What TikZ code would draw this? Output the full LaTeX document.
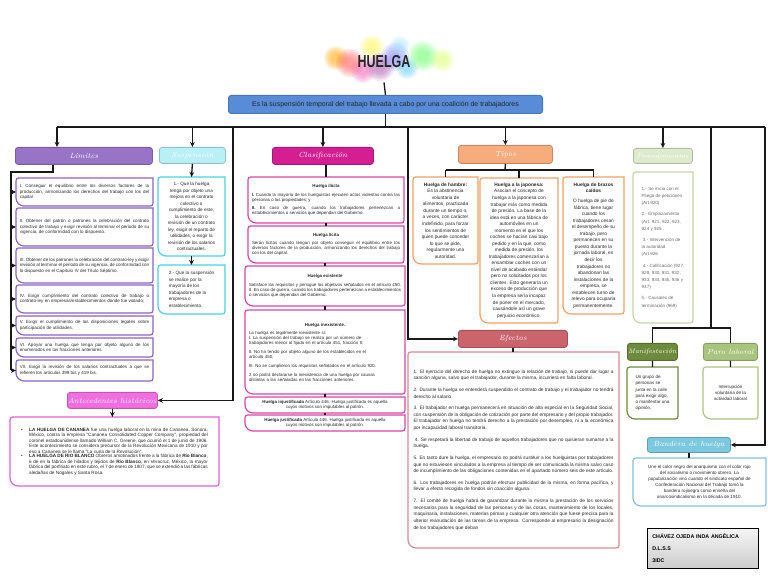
\documentclass[tikz,border=0pt]{standalone}
\usepackage{fontspec}
\usepackage{graphicx}
\newfontfamily\arialf{Liberation Sans}
\usetikzlibrary{arrows.meta}
\newcommand\pgap{\par\vspace{3.4pt}}
\newcommand\bulletitem[1]{\noindent\makebox[6pt][l]{\textbullet}\parbox[t]{134pt}{#1}\par}
\hyphenpenalty=10000
\exhyphenpenalty=10000
\emergencystretch=6pt

\definecolor{limc}{RGB}{152,116,198}
\definecolor{limd}{RGB}{140,100,190}
\definecolor{susc}{RGB}{184,240,246}
\definecolor{susd}{RGB}{72,210,228}
\definecolor{clac}{RGB}{212,30,146}
\definecolor{clad}{RGB}{214,70,165}
\definecolor{tipc}{RGB}{246,172,124}
\definecolor{tipd}{RGB}{240,160,100}
\definecolor{proc}{RGB}{222,234,204}
\definecolor{prod}{RGB}{196,214,166}
\definecolor{efc}{RGB}{204,100,110}
\definecolor{efd}{RGB}{214,140,148}
\definecolor{antc}{RGB}{240,110,224}
\definecolor{antd}{RGB}{228,96,212}
\definecolor{manc}{RGB}{110,138,60}
\definecolor{parc}{RGB}{168,196,126}
\definecolor{banc}{RGB}{124,200,222}
\definecolor{band}{RGB}{130,190,226}
\definecolor{bluec}{RGB}{88,140,214}
\definecolor{wire}{RGB}{25,25,25}

\tikzset{every picture/.style={line width=0.75pt}}
\tikzset{
  wire/.style={draw=wire, line width=1pt},
  tip/.style={-{Stealth[length=3.8pt,width=3.6pt]}},
  head/.style={draw=#1!80!black, fill=#1, rounded corners=2pt, line width=0.6pt, anchor=north west, inner sep=0pt, text=white, font=\itshape\fontsize{5.6}{6}\selectfont},
  card/.style={anchor=north west, inner xsep=2.5pt, inner ysep=1pt, text=black!85, font=\arialf\fontsize{3.4}{4.2}\selectfont, align=justify},
  rim/.style={line width=0.9pt},
}

\begin{document}
\begin{tikzpicture}[x=0.75pt,y=0.75pt,yscale=-1,xscale=1]
\useasboundingbox (0,0) rectangle (768,577);

%Shape: Watercolour blot behind the title
\foreach \cx/\cy/\r/\col in {336/58/12/orange!70!yellow, 372/47/12/yellow!70, 350/63/14/red!65, 363/71/12/magenta!60, 380/67/14/violet!65, 395/57/14/blue!50, 407/68/11/cyan!60, 423/56/15/green!60, 442/60/12/lime!55, 400/46/10/cyan!35}
  \foreach \k in {1,0.85,0.7,0.55,0.4}
    \fill [\col, fill opacity=0.16] (\cx,\cy) circle ({\r*\k});

% Text Node
\node [minimum height=30pt, text=black!85, font=\arialf\bfseries\fontsize{13}{13}\selectfont] (title) at (384,62) {\scalebox{0.72}[1]{HUELGA}};
\node [draw=bluec!85!black, fill=bluec, rounded corners=2pt, anchor=north west, minimum width=235.5pt, minimum height=13.5pt, inner sep=0pt, text=black!85, font=\arialf\fontsize{5.2}{6}\selectfont] (banner) at (228,95) {Es la suspensión temporal del trabajo llevada a cabo por una coalición de trabajadores};

%Límites
\node [head=limc, minimum width=102.75pt, minimum height=12.75pt] (limh) at (15,147) {Límites};
\node [card, minimum width=102pt, minimum height=20.25pt, text width=97pt] (l1) at (16,178) {I. Conseguir el equilibrio entre los diversos factores de la producción, armonizando los derechos del trabajo con los del capital};
\node [card, minimum width=102pt, minimum height=27.75pt, text width=97pt] (l2) at (16,208) {II. Obtener del patrón o patrones la celebración del contrato colectivo de trabajo y exigir revisión al terminar el periodo de su vigencia, de conformidad con lo dispuesto.};
\node [card, minimum width=102pt, minimum height=25.5pt, text width=97pt] (l3) at (16,248) {III. Obtener de los patrones la celebración del contrato-ley y exigir revisión al terminar el periodo de su vigencia, de conformidad con lo dispuesto en el Capítulo IV del Título Séptimo.};
\node [card, minimum width=102pt, minimum height=20.25pt, text width=97pt] (l4) at (16,285) {IV. Exigir cumplimiento del contrato colectivo de trabajo o contrato-ley en empresas/establecimientos donde fue violado;};
\node [card, minimum width=102pt, minimum height=13.5pt, text width=97pt] (l5) at (16,316) {V. Exigir el cumplimiento de las disposiciones legales sobre participación de utilidades.};
\node [card, minimum width=102pt, minimum height=13.5pt, text width=97pt] (l6) at (16,338) {VI. Apoyar una huelga que tenga por objeto alguno de los enumerados en las fracciones anteriores.};
\node [card, minimum width=102pt, minimum height=15pt, text width=97pt] (l7) at (16,360) {VII. Exigir la revisión de los salarios contractuales a que se refieren los artículos 399 bis y 419 bis.};

%Suspensión
\node [head=susc, minimum width=49.5pt, minimum height=12pt] (susph) at (159,147) {Suspensión};
\node [card, align=center, minimum width=49.5pt, minimum height=58.5pt, font=\arialf\fontsize{3.5}{4.9}\selectfont] (s1) at (158,177) {1.- Que la huelga\\tenga por objeto una\\mejora en el contrato\\colectivo o\\cumplimiento de este,\\la celebración o\\revisión de un contrato\\ley, exigir el reparto de\\utilidades, o exigir la\\revisión de los salarios\\contractuales.};
\node [card, align=left, minimum width=49.5pt, minimum height=36pt, font=\arialf\fontsize{3.5}{4.9}\selectfont] (s2) at (158,265) {2.- Que la suspensión\\se realice por la\\mayoría de los\\trabajadores de la\\empresa o\\establecimiento.};

%Clasificación
\node [head=clac, minimum width=75.75pt, minimum height=12.75pt] (clash) at (272,147) {Clasificación};
\node [card, minimum width=116.25pt, minimum height=33.75pt, text width=111pt, font=\arialf\fontsize{3.3}{3.8}\selectfont] (c1) at (248,177) {{\centering\bfseries Huelga ilícita\par}\vspace{2.5pt}\textbf{I.} Cuando la mayoría de los huelguistas ejecuten actos violentas contra las personas o las propiedades; y\par\vspace{2.6pt}\textbf{II.} En caso de guerra, cuando los trabajadores pertenezcan a establecimientos o servicios que dependan del Gobierno.};
\node [card, minimum width=116.25pt, minimum height=27pt, text width=111pt, font=\arialf\fontsize{3.3}{3.8}\selectfont] (c2) at (248,226) {{\centering\bfseries Huelga lícita\par}\vspace{2.5pt}Serán lícitas cuando tengan por objeto conseguir el equilibrio entre los diversos factores de la producción, armonizando los derechos del trabajo con los del capital.};
\node [card, minimum width=119.25pt, minimum height=29.25pt, text width=114pt, font=\arialf\fontsize{3.3}{3.8}\selectfont] (c3) at (245,266) {{\centering\bfseries Huelga existente\par}\vspace{2.5pt}Satisface los requisitos y persigue los objetivos señalados en el artículo 450. II. En caso de guerra, cuando los trabajadores pertenezcan a establecimientos o servicios que dependan del Gobierno.};
\node [card, align=left, minimum width=119.25pt, minimum height=62.25pt, text width=114pt, font=\arialf\fontsize{3.3}{3.8}\selectfont] (c4) at (245,310) {\makebox[\linewidth][c]{\bfseries Huelga inexistente.}\\[2.5pt]La huelga es legalmente inexistente si:\\I. La suspensión del trabajo se realiza por un número de\\trabajadores menor al fijado en el artículo 451, fracción II;\\[2.8pt]II. No ha tenido por objeto alguno de los establecidos en el\\artículo 450;\\[2.8pt]III. No se cumplieron los requisitos señalados en el artículo 920.\\[2.8pt]2 no podrá declararse la inexistencia de una huelga por causas\\distintas a las señaladas en las fracciones anteriores.};
\node [card, align=center, minimum width=119.25pt, minimum height=11.25pt, font=\arialf\fontsize{3.3}{3.8}\selectfont] (c5) at (245,397) {\textbf{Huelga injustificada} Artículo 446. Huelga justificada es aquella\\cuyos motivos son imputables al patrón.};
\node [card, align=center, minimum width=119.25pt, minimum height=11.25pt, font=\arialf\fontsize{3.3}{3.8}\selectfont] (c6) at (245,415) {\textbf{Huelga justificada} Artículo 446. Huelga justificada es aquella\\cuyos motivos son imputables al patrón.};

%Tipos
\node [head=tipc, minimum width=70.5pt, minimum height=13.5pt] (tiph) at (458,145) {Tipos};
\node [card, align=center, minimum width=48pt, minimum height=64.5pt, font=\arialf\fontsize{3.6}{4.9}\selectfont] (t1) at (413,177) {\textbf{Huelga de hambre:}\\Es la abstinencia\\voluntaria de\\alimentos, practicada\\durante un tiempo o,\\a veces, con carácter\\indefinido, para forzar\\los sentimientos de\\quien puede conceder\\lo que se pide,\\regularmente una\\autoridad.};
\node [card, align=center, minimum width=57.75pt, minimum height=108pt, font=\arialf\fontsize{3.6}{4.9}\selectfont] (t2) at (480,178) {\textbf{Huelga a la japonesa:}\\Asocian el concepto de\\huelga a la japonesa con\\trabajar más como medida\\de presión. La base de la\\idea está en una fábrica de\\automóviles en un\\momento en el que los\\coches se hacían casi bajo\\pedido y en la que, como\\medida de presión, los\\trabajadores comenzarían a\\ensamblar coches con un\\nivel de acabado estándar\\pero no solicitados por los\\clientes. Esto generaría un\\exceso de producción que\\la empresa sería incapaz\\de poner en el mercado,\\causándole así un grave\\perjuicio económico.};
\node [card, align=center, minimum width=45pt, minimum height=102pt, font=\arialf\fontsize{3.6}{4.9}\selectfont] (t3) at (563,177) {\textbf{Huelga de brazos}\\\textbf{caídos}\\[2.5pt]O huelga de pie de\\fábrica, tiene lugar\\cuando los\\trabajadores cesan\\el desempeño de su\\trabajo, pero\\permanecen en su\\puesto durante la\\jornada laboral, es\\decir los\\trabajadores no\\abandonan las\\instalaciones de la\\empresa, se\\establecen turno de\\relevo para ocuparla\\permanentemente.};

%Procedimientos
\node [head=proc, minimum width=44.25pt, minimum height=11.25pt, font=\itshape\fontsize{5}{6}\selectfont] (proch) at (633,148) {Procedimientos};
\node [card, align=left, minimum width=44.25pt, minimum height=112.5pt, text=black!60, font=\arialf\fontsize{3.4}{5.4}\selectfont] (p1) at (633,172) {1.- Se inicia con el\\Pliego de peticiones\\(Art.920)\\[3pt]2.- Emplazamiento\\(Art. 921, 922, 923,\\924 y 925\\[3pt]\ 3.- Intervención de\\la autoridad\\(Art.926\\[3pt]\ 4.- Calificación (927,\\928, 930, 931, 932,\\933, 934, 935, 936 y\\937)\\[3pt]5.- Causales de\\terminación (969)};

%Efectos
\node [head=efc, minimum width=81.75pt, minimum height=12.75pt] (efh) at (458,330) {Efectos};
\node [card, minimum width=157.5pt, minimum height=146.25pt, text width=150pt, inner xsep=3.75pt, font=\arialf\fontsize{3.6}{5.1}\selectfont] (e1) at (408,352) {1. El ejercicio del derecho de huelga no extingue la relación de trabajo, ni puede dar lugar a sanción alguna, salvo que el trabajador, durante la misma, incurriera en falta laboral.\pgap 2. Durante la huelga se entenderá suspendido el contrato de trabajo y el trabajador no tendrá derecho al salario.\pgap 3. El trabajador en huelga permanecerá en situación de alta especial en la Seguridad Social, con suspensión de la obligación de cotización por parte del empresario y del propio trabajador. El trabajador en huelga no tendrá derecho a la prestación por desempleo, ni a la económica por incapacidad laboral transitoria.\pgap \ 4. Se respetará la libertad de trabajo de aquellos trabajadores que no quisieran sumarse a la huelga.\pgap 5. En tanto dure la huelga, el empresario no podrá sustituir a los huelguistas por trabajadores que no estuviesen vinculados a la empresa al tiempo de ser comunicada la misma salvo caso de incumplimiento de las obligaciones contenidas en el apartado número seis de este artículo.\pgap 6. Los trabajadores en huelga podrán efectuar publicidad de la misma, en forma pacífica, y llevar a efecto recogida de fondos sin coacción alguna.\pgap 7. El comité de huelga habrá de garantizar durante la misma la prestación de los servicios necesarios para la seguridad de las personas y de las cosas, mantenimiento de los locales, maquinaria, instalaciones, materias primas y cualquier otra atención que fuese precisa para la ulterior reanudación de las tareas de la empresa. Corresponde al empresario la designación de los trabajadores que deban};

%Antecedentes históricos
\node [head=antc, minimum width=67.5pt, minimum height=12pt] (anth) at (67,392) {Antecedentes históricos};
\node [card, minimum width=156pt, minimum height=51pt, text width=140pt, inner xsep=8pt, font=\arialf\fontsize{3.5}{4.1}\selectfont] (a1) at (10,417) {\bulletitem{\textbf{LA HUELGA DE CANANEA} fue una huelga laboral en la mina de Cananea, Sonora, México, contra la empresa "Cananea Consolidated Copper Company", propiedad del coronel estadounidense llamado William C. Greene, que ocurrió el 1 de junio de 1906. Este acontecimiento se considera precursor de la Revolución Mexicana de 1910 y por eso a Cananea se le llama "La cuna de la Revolución".}\bulletitem{\textbf{LA HUELGA DE RIO BLANCO} Obreros amotinados frente a la fábrica de \textbf{Río Blanco}, 6 de en la fábrica de hilados y tejidos de \textbf{Río Blanco}, en Veracruz, México, la mayor fábrica del porfiriato en este rubro, el 7 de enero de 1907, que se extendió a las fábricas aledañas de Nogales y Santa Rosa.}};

%Manifestación, Paro laboral, Bandera
\node [head=manc, minimum width=37.5pt, minimum height=12.75pt, font=\itshape\fontsize{5}{6}\selectfont] (manh) at (627,343) {Manifestación};
\node [card, align=left, minimum width=37.5pt, minimum height=38.25pt, font=\arialf\fontsize{3.4}{4.6}\selectfont] (m1) at (627,367) {Un grupo de\\personas se\\junta en la calle\\para exigir algo,\\o manifestar una\\opinión.};
\node [head=parc, minimum width=40.5pt, minimum height=12.75pt] (paroh) at (703,343) {Paro laboral};
\node [card, align=center, minimum width=40.5pt, minimum height=38.25pt, font=\arialf\fontsize{3.4}{4.6}\selectfont] (pl1) at (703,367) {Interrupción\\voluntaria de la\\actividad laboral};
\node [head=banc, minimum width=62.25pt, minimum height=11.25pt] (bandh) at (647,437) {Bandera de huelga};
\node [card, align=center, minimum width=99pt, minimum height=35.25pt, font=\arialf\fontsize{3.4}{4.4}\selectfont] (b1) at (633,458) {Une el color negro del anarquismo con el color rojo\\del socialismo o movimiento obrero. La\\popularización vino cuando el sindicato español de\\Confederación Nacional del Trabajo tomó la\\bandera rojinegra como enseña del\\anarcosindicalismo en la década de 1910.};
\node [draw=black, line width=0.8pt, top color=gray!8, bottom color=gray!40, anchor=north west, minimum width=83.25pt, minimum height=30pt, text width=76pt, align=left, font=\arialf\bfseries\fontsize{4}{9}\selectfont] (name) at (647,528) {CHÁVEZ OJEDA INDA ANGÉLICA\\D.L.S.S\\3IDC};

%Card rims: two opposite corners rounded
\foreach \nm/\col in {l1/limd,l2/limd,l3/limd,l4/limd,l5/limd,l6/limd,l7/limd,s1/susd,s2/susd,c1/clad,c2/clad,c3/clad,c4/clad,c5/clad,c6/clad,t1/tipd,t2/tipd,t3/tipd,p1/prod,e1/efd,a1/antd,m1/manc,pl1/parc,b1/band}
  \draw [rim, draw=\col] (\nm.north) -- (\nm.north east) [rounded corners=2pt] -- (\nm.south east) [rounded corners=6pt] -- (\nm.south west) [rounded corners=2pt] -- (\nm.north west) [rounded corners=6pt] -- cycle;

%Straight Lines
\coordinate (hl) at (57,127);
\coordinate (hr) at (765,127);
\coordinate (antx) at (233,127);
\coordinate (efx) at (408,127);
\coordinate (mpx) at (711,127);
\coordinate (mpy) at (711,328);
\coordinate (lj) at (53,172);
\coordinate (lbus) at (11,172);
\coordinate (tbus) at (505,170);

\draw [wire] (title.south) -- (banner.north);
\draw [wire] (banner.south) -- (banner.south |- hl);
\draw [wire] (hl) -- (hr);
\draw [wire, tip] (hl) -- (hl |- limh.north);
\draw [wire, tip] (susph.north |- hl) -- (susph.north);
\draw [wire, tip] (antx) |- (anth.east);
\draw [wire, tip] (clash.north |- hl) -- (clash.north);
\draw [wire, tip] (efx) |- (efh.west);
\draw [wire, tip] (tiph.north |- hl) -- (tiph.north);
\draw [wire, tip] (proch.north |- hl) -- (proch.north);
\draw [wire] (mpx) -- (mpy);
\draw [wire] (manh.north) |- (mpy);
\draw [wire] (paroh.north) |- (mpy);
\draw [wire, tip] (hr) |- (bandh.east);

\draw [wire] (lj |- limh.south) -- (lj) -- (lbus) -- (lbus |- l7.west);
\foreach \nm in {l1,l2,l3,l4,l5,l6,l7}
  \draw [wire, tip] (lbus |- \nm.west) -- (\nm.west);

\draw [wire, tip] (susph.south) -- (s1.north);
\draw [wire, tip] (s1.south) -- (s2.north);

\foreach \a/\b in {clash/c1,c1/c2,c2/c3,c3/c4,c4/c5,c5/c6}
  \draw [wire] (\b.north |- \a.south) -- (\b.north);

\draw [wire] (tiph.south) -- (tbus);
\draw [wire] (t1.north |- tbus) -- (t3.north |- tbus);
\foreach \nm in {t1,t2,t3}
  \draw [wire] (\nm.north |- tbus) -- (\nm.north);

\draw [wire] (efh.south) -- (efh.south |- e1.north);
\draw [wire, tip] (anth.south) -- (anth.south |- a1.north);
\draw [wire] (manh.south) -- (m1.north);
\draw [wire] (paroh.south) -- (pl1.north);
\draw [wire] (bandh.south) -- (bandh.south |- b1.north);

\end{tikzpicture}
\end{document}
